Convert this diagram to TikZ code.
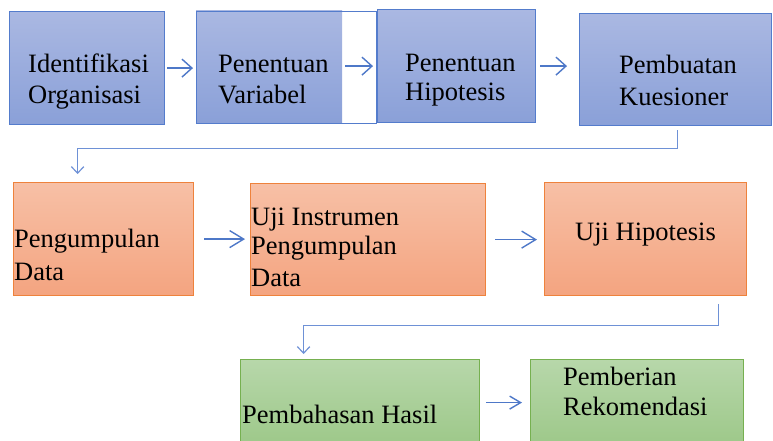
\documentclass[tikz,border=0pt]{standalone}
\usepackage{fontspec}
\setmainfont{Liberation Serif}
\newfontfamily\tnr{Liberation Serif}
\usetikzlibrary{arrows.meta}
\definecolor{bTop}{RGB}{170,184,226}
\definecolor{bBot}{RGB}{138,160,216}
\definecolor{bLine}{RGB}{84,124,204}
\definecolor{oTop}{RGB}{247,192,166}
\definecolor{oBot}{RGB}{244,164,128}
\definecolor{oLine}{RGB}{238,130,60}
\definecolor{gTop}{RGB}{183,215,170}
\definecolor{gBot}{RGB}{157,200,137}
\definecolor{gLine}{RGB}{118,176,80}
\definecolor{arrCol}{RGB}{78,120,200}
\definecolor{elbCol}{RGB}{110,145,214}
\begin{document}
\begin{tikzpicture}[x=1pt,y=-1pt,
  box/.style={anchor=north west, inner sep=0pt, line width=1.2pt},
  bluebox/.style={box, draw=bLine, top color=bTop, bottom color=bBot},
  orangebox/.style={box, draw=oLine, top color=oTop, bottom color=oBot},
  greenbox/.style={box, draw=gLine, top color=gTop, bottom color=gBot},
  lbl/.style={anchor=base west, inner sep=0pt, font=\tnr\fontsize{26.5}{31}\selectfont, text=black},
  arrowA/.style={draw=arrCol, line width=1.4pt, -{Straight Barb[length=10pt,width=18pt]}},
  arrowB/.style={draw=arrCol, line width=1.4pt, -{Straight Barb[length=14pt,width=17pt]}},
  arrowC/.style={draw=arrCol, line width=1.4pt, -{Straight Barb[length=11pt,width=13pt]}},
  elbow/.style={draw=elbCol, line width=1.2pt, -{Straight Barb[length=6.5pt,width=12.5pt]}},
]
\useasboundingbox (0,0) rectangle (773,441);
\clip (0,0) rectangle (773,441);

% Row 1
\node[bluebox, minimum width=155pt, minimum height=113pt] (b1) at (9,11) {};
\shade[top color=bTop, bottom color=bBot] (196,11) rectangle (342,123);
\node[box, draw=bLine, minimum width=180pt, minimum height=112pt] (b2) at (196,11) {};
\node[bluebox, minimum width=158pt, minimum height=113pt] (b3) at (377,9) {};
\node[bluebox, minimum width=192pt, minimum height=112pt] (b4) at (579,13) {};

\node[lbl] (t1a) at (28,73) {Identifikasi};
\node[lbl] (t1b) at (28,104) {Organisasi};
\node[lbl] (t2a) at (218,73) {Penentuan};
\node[lbl] (t2b) at (218,104) {Variabel};
\node[lbl] (t3a) at (405,72) {Penentuan};
\node[lbl] (t3b) at (405,101) {Hipotesis};
\node[lbl] (t4a) at (619,74) {Pembuatan};
\node[lbl] (t4b) at (619,106) {Kuesioner};

% Row 2
\node[orangebox, minimum width=180pt, minimum height=113pt] (b5) at (13,182) {};
\node[orangebox, minimum width=235pt, minimum height=112pt] (b6) at (250,183) {};
\node[orangebox, minimum width=202pt, minimum height=113pt] (b7) at (544,182) {};

\node[lbl] (t5a) at (14,247) {Pengumpulan};
\node[lbl] (t5b) at (14,280) {Data};
\node[lbl] (t6a) at (251,225) {Uji Instrumen};
\node[lbl] (t6b) at (251,254) {Pengumpulan};
\node[lbl] (t6c) at (251,286) {Data};
\node[lbl] (t7a) at (575,240) {Uji Hipotesis};

% Row 3
\node[greenbox, minimum width=239pt, minimum height=86pt] (b8) at (240,359) {};
\node[greenbox, minimum width=213pt, minimum height=86pt] (b9) at (530,359) {};

\node[lbl] (t8a) at (242,423) {Pembahasan Hasil};
\node[lbl] (t9a) at (563,385) {Pemberian};
\node[lbl] (t9b) at (563,415) {Rekomendasi};

% Connectors
\draw[arrowA, shorten <=2pt, shorten >=3pt] (b1.east) -- (b1.east -| b2.west);
\draw[arrowA, shorten >=4pt] (b3.west -| b2.east) ++(-32,0) -- (b3.west);
\draw[arrowA, shorten <=4pt, shorten >=12pt] (b3.east) -- (b3.east -| b4.west);
\draw[elbow] (b4.south) ++(2,4) -- ++(0,18) -| ([xshift=-26pt,yshift=8pt]b5.north);

\draw[arrowB, shorten <=10pt, shorten >=5pt] (b5.east) -- (b5.east -| b6.west);
\draw[arrowB, shorten <=9pt, shorten >=7pt] (b6.east) -- (b6.east -| b7.west);
\draw[elbow] (b7.south) ++(73,8) -- ++(0,21) -| ([xshift=-56.5pt,yshift=5pt]b8.north);

\draw[arrowC, shorten <=6pt, shorten >=8pt] (b8.east) -- (b9.west);
\end{tikzpicture}
\end{document}
